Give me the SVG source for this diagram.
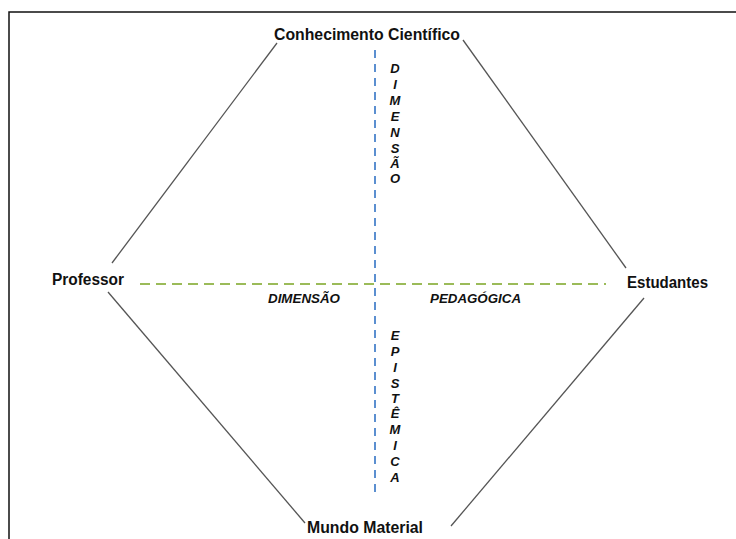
<svg xmlns="http://www.w3.org/2000/svg" width="736" height="539" viewBox="0 0 736 539">
  <style>
    .label { font-family: "Liberation Sans", Arial, sans-serif; font-weight: bold; font-size: 16px; fill: #111; }
    .axis { font-family: "Liberation Sans", Arial, sans-serif; font-weight: bold; font-style: italic; font-size: 13px; fill: #111; }
    .edge { stroke: #555; stroke-width: 1.3; fill: none; }
    .frame { stroke: #111; stroke-width: 1.5; fill: none; }
  </style>
  <rect width="736" height="539" fill="#fff"/>
  <path class="frame" d="M9,539 V12 H736"/>

  <g id="connectors">
    <line class="edge" x1="277" y1="43" x2="112" y2="263"/>
    <line class="edge" x1="463" y1="40" x2="626" y2="268"/>
    <line class="edge" x1="108" y1="292" x2="305" y2="523"/>
    <line class="edge" x1="644" y1="298" x2="451" y2="526"/>
    <line id="axis-vertical" x1="375" y1="50" x2="375" y2="496" stroke="#5b8fd0" stroke-width="2" stroke-dasharray="8,6"/>
    <line id="axis-horizontal" x1="140" y1="284" x2="606" y2="284" stroke="#9bbb59" stroke-width="2" stroke-dasharray="10,6"/>
  </g>

  <g id="node-conhecimento">
    <text class="label" x="367" y="40" text-anchor="middle" textLength="186" lengthAdjust="spacingAndGlyphs">Conhecimento Científico</text>
  </g>
  <g id="node-professor">
    <text class="label" x="52" y="285" textLength="72" lengthAdjust="spacingAndGlyphs">Professor</text>
  </g>
  <g id="node-estudantes">
    <text class="label" x="627" y="288" textLength="81" lengthAdjust="spacingAndGlyphs">Estudantes</text>
  </g>
  <g id="node-mundo">
    <text class="label" x="307" y="533" textLength="116" lengthAdjust="spacingAndGlyphs">Mundo Material</text>
  </g>

  <g id="label-dimensao-vertical" class="axis" text-anchor="middle">
    <text x="395" y="73">D</text>
    <text x="395" y="89">I</text>
    <text x="395" y="105">M</text>
    <text x="395" y="121">E</text>
    <text x="395" y="137">N</text>
    <text x="395" y="153">S</text>
    <text x="395" y="168">Ã</text>
    <text x="395" y="183">O</text>
  </g>
  <g id="label-epistemica" class="axis" text-anchor="middle">
    <text x="395" y="340">E</text>
    <text x="395" y="356">P</text>
    <text x="395" y="372">I</text>
    <text x="395" y="388">S</text>
    <text x="395" y="403">T</text>
    <text x="395" y="418">Ê</text>
    <text x="395" y="434">M</text>
    <text x="395" y="450">I</text>
    <text x="395" y="466">C</text>
    <text x="395" y="482">A</text>
  </g>
  <g id="label-dimensao-pedagogica" class="axis">
    <text x="268" y="303" textLength="72" lengthAdjust="spacingAndGlyphs">DIMENSÃO</text>
    <text x="430" y="303" textLength="91" lengthAdjust="spacingAndGlyphs">PEDAGÓGICA</text>
  </g>
</svg>
